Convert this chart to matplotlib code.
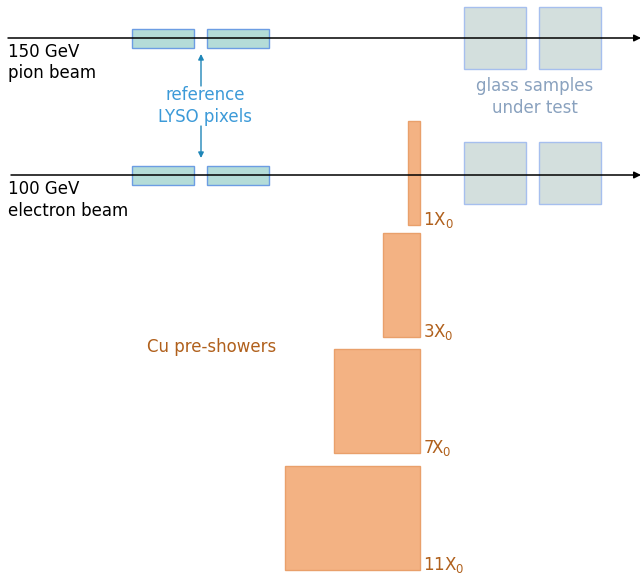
import matplotlib
matplotlib.use('Agg')
import matplotlib.pyplot as plt
import matplotlib.patches as mpatches

# ── Data ──────────────────────────────────────────────────────────────────────
beam_labels   = ['150 GeV\npion beam', '100 GeV\nelectron beam']
beam_y        = [38, 175]
beam_x0       = [8, 11]
lyso_x        = [132, 207]
glass_x       = [464, 539]
glass_top     = [7, 142]
preshower_x0  = [1, 3, 7, 11]          # thickness in radiation lengths
preshower_top = [121, 233, 349, 466]
PX_PER_X0     = 12.3
PRESHOWER_H   = 104
PRESHOWER_RIGHT = 420

ORANGE_FILL = '#f3b283'
ORANGE_EDGE = '#e9a06b'
ORANGE_TXT  = '#b0601c'

fig = plt.figure(figsize=(6.41, 5.77), dpi=100)
ax = fig.add_axes([0, 0, 1, 1])
ax.set_xlim(0, 641)
ax.set_ylim(577, 0)
ax.axis('off')

# ── beams ─────────────────────────────────────────────────────────────────────
for y, x0, lab in zip(beam_y, beam_x0, beam_labels):
    ax.annotate('', xy=(641, y), xytext=(x0, y),
                arrowprops=dict(arrowstyle='-|>', color='black', lw=1.1,
                                mutation_scale=10, shrinkA=0, shrinkB=0), zorder=3)
    ax.text(8, y + 5, lab, ha='left', va='top', fontsize=12, color='black',
            linespacing=1.25)

# ── LYSO pixels ───────────────────────────────────────────────────────────────
for y in beam_y:
    for x in lyso_x:
        ax.add_patch(mpatches.Rectangle((x, y - 9), 62, 19, facecolor='#b4dcd8',
                                        edgecolor='#6c9de3', lw=1.0, zorder=2))

ax.text(205, 106, 'reference\nLYSO pixels', ha='center', va='center', fontsize=12,
        color='#3c9ad8', linespacing=1.25)
ax.annotate('', xy=(201, 54), xytext=(201, 86),
            arrowprops=dict(arrowstyle='-|>', color='#1f86b8', lw=1.0, mutation_scale=8,
                            shrinkA=0, shrinkB=0))
ax.annotate('', xy=(201, 158), xytext=(201, 126),
            arrowprops=dict(arrowstyle='-|>', color='#1f86b8', lw=1.0, mutation_scale=8,
                            shrinkA=0, shrinkB=0))

# ── glass samples ─────────────────────────────────────────────────────────────
for top in glass_top:
    for x in glass_x:
        ax.add_patch(mpatches.Rectangle((x, top), 62, 62, facecolor='#d3dfdd',
                                        edgecolor='#a6bfee', lw=1.0, zorder=2))

ax.text(535, 97, 'glass samples\nunder test', ha='center', va='center', fontsize=12,
        color='#8aa2bf', linespacing=1.25)

# ── Cu pre-showers ────────────────────────────────────────────────────────────
for n, top in zip(preshower_x0, preshower_top):
    w = n * PX_PER_X0
    ax.add_patch(mpatches.Rectangle((PRESHOWER_RIGHT - w, top), w, PRESHOWER_H,
                                    facecolor=ORANGE_FILL, edgecolor=ORANGE_EDGE,
                                    lw=1.0, zorder=2))
    ax.text(PRESHOWER_RIGHT + 3, top + PRESHOWER_H + 5, f'{n}X$_0$', ha='left',
            va='bottom', fontsize=12, color=ORANGE_TXT)

ax.text(212, 347, 'Cu pre-showers', ha='center', va='center', fontsize=12,
        color=ORANGE_TXT)

fig.savefig('out.png', dpi=100)
